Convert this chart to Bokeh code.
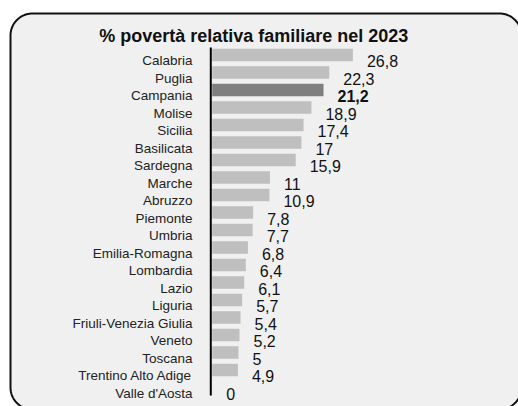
import numpy as np
from bokeh.plotting import figure
from bokeh.models import ColumnDataSource, Range1d
from bokeh.core.properties import value
from bokeh.embed import file_html
from bokeh.resources import INLINE

# ---- data ----
regions = ["Calabria", "Puglia", "Campania", "Molise", "Sicilia", "Basilicata",
           "Sardegna", "Marche", "Abruzzo", "Piemonte", "Umbria", "Emilia-Romagna",
           "Lombardia", "Lazio", "Liguria", "Friuli-Venezia Giulia", "Veneto",
           "Toscana", "Trentino Alto Adige", "Valle d'Aosta"]
poverty = [26.8, 22.3, 21.2, 18.9, 17.4, 17.0, 15.9, 11.0, 10.9, 7.8, 7.7, 6.8,
           6.4, 6.1, 5.7, 5.4, 5.2, 5.0, 4.9, 0.0]
highlight = "Campania"
title = "% povertà relativa familiare  nel 2023"

# ---- layout (pixels) ----
W, H = 518, 406
PX_X = 5.25          # px per unit on x
X0_PX = 211.7        # canvas x of value 0
PX_Y = 17.5          # px per row
TOP_ROW_PX = 54.5    # canvas y of first row centre

n = len(regions)
x_start = -X0_PX / PX_X
x_end = x_start + W / PX_X
y_end = (n - 1) + TOP_ROW_PX / PX_Y
y_start = y_end - H / PX_Y

def px_x(px):
    return x_start + np.asarray(px) / PX_X

def px_y(py):
    return y_end - np.asarray(py) / PX_Y

def rounded_rect_px(l, t, r, b, rad, k=24):
    xs, ys = [], []
    corners = [(r - rad, t + rad, -90, 0), (r - rad, b - rad, 0, 90),
               (l + rad, b - rad, 90, 180), (l + rad, t + rad, 180, 270)]
    for cx, cy, a0, a1 in corners:
        a = np.radians(np.linspace(a0, a1, k))
        xs.extend(cx + rad * np.cos(a))
        ys.extend(cy + rad * np.sin(a))
    return np.array(xs), np.array(ys)

ypos = [n - 1 - i for i in range(n)]
labels = [f"{v:g}".replace(".", ",") for v in poverty]
colors = ["#7f7f7f" if r == highlight else "#bfbfbf" for r in regions]
styles = ["bold" if r == highlight else "normal" for r in regions]

src = ColumnDataSource(dict(y=ypos, v=poverty, region=regions, lab=labels,
                            color=colors, style=styles, zero=[0.0] * n))

p = figure(width=W, height=H, output_backend="svg", toolbar_location=None,
           x_range=Range1d(x_start, x_end), y_range=Range1d(y_start, y_end),
           x_axis_type=None, y_axis_type=None, min_border=0,
           background_fill_color="white", border_fill_color="white")
p.outline_line_color = None
p.xgrid.visible = False
p.ygrid.visible = False

# rounded panel (decoration)
bx, by = rounded_rect_px(10, 13, 521, 409, 22)
p.patch(x=px_x(bx), y=px_y(by), fill_color="#f0f0f0", line_color="#111111",
        line_width=2)

# bars
p.hbar(y="y", left=0, right="v", height=12.5 / PX_Y, fill_color="color",
       line_color=None, source=src)

# vertical axis line
p.segment(x0=[-0.27], x1=[-0.27], y0=[float(px_y(395))], y1=[float(px_y(47))],
          line_color="#000000", line_width=2)

# category labels
p.text(x="zero", y="y", text="region", source=src, text_align="right",
       text_baseline="alphabetic", x_offset=-19.7, y_offset=5.5,
       text_font=value("Liberation Sans"), text_font_size="13.5px",
       text_color="#222222")

# value labels
p.text(x="v", y="y", text="lab", source=src, text_align="left",
       text_baseline="alphabetic", x_offset=14, y_offset=6,
       text_font=value("Liberation Sans"), text_font_size="16px",
       text_font_style="style", text_color="#111111")

# title
p.text(x=[float(px_x(255.8))], y=[float(px_y(35.7))], text=[title], text_align="center",
       text_baseline="alphabetic", text_font=value("Liberation Sans"),
       text_font_size="18px", text_font_style="bold", text_color="#111111")

open("out.html", "w").write(file_html(p, INLINE))
